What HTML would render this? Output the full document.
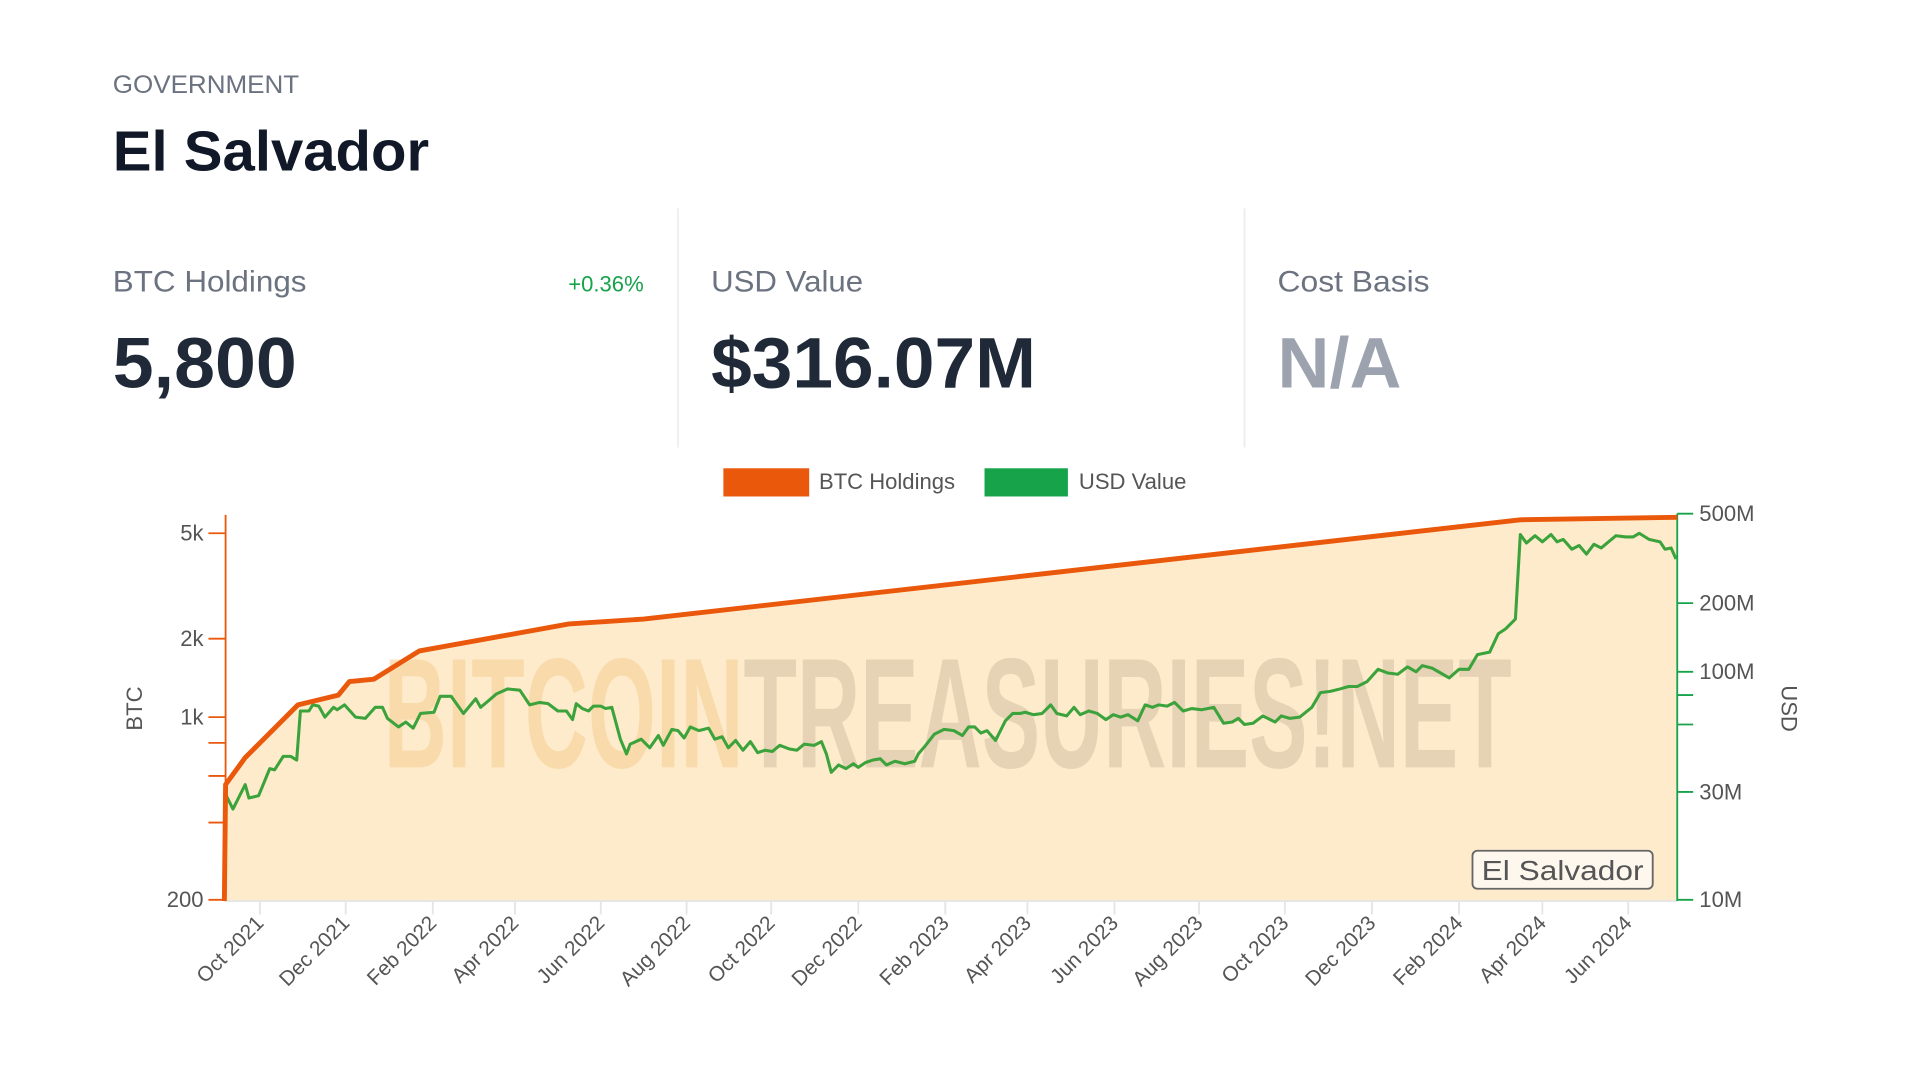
<!DOCTYPE html>
<html><head><meta charset="utf-8"><style>
html,body{margin:0;padding:0;background:#fff;width:1920px;height:1080px;overflow:hidden}
svg{display:block}
text{font-family:"Liberation Sans",sans-serif}
</style></head><body>
<svg width="1920" height="1080" viewBox="0 0 1566 881" preserveAspectRatio="none" xmlns="http://www.w3.org/2000/svg">
<rect width="1566" height="881" fill="#fff"/>
<text x="92" y="76" font-size="20" fill="#6b7280" textLength="152" lengthAdjust="spacingAndGlyphs">GOVERNMENT</text>
<text x="92" y="139" font-size="46" font-weight="bold" fill="#111827" textLength="258" lengthAdjust="spacingAndGlyphs">El Salvador</text>
<line x1="553" y1="170" x2="553" y2="365" stroke="#eeeeee" stroke-width="1.5"/>
<line x1="1015" y1="170" x2="1015" y2="365" stroke="#eeeeee" stroke-width="1.5"/>
<text x="92" y="238" font-size="24" fill="#6b7280" textLength="158" lengthAdjust="spacingAndGlyphs">BTC Holdings</text>
<text x="525" y="238" font-size="18" fill="#16a34a" text-anchor="end">+0.36%</text>
<text x="92" y="316" font-size="58" font-weight="bold" fill="#1f2937" textLength="150" lengthAdjust="spacingAndGlyphs">5,800</text>
<text x="580" y="238" font-size="24" fill="#6b7280" textLength="124" lengthAdjust="spacingAndGlyphs">USD Value</text>
<text x="580" y="316" font-size="58" font-weight="bold" fill="#1f2937" textLength="265" lengthAdjust="spacingAndGlyphs">$316.07M</text>
<text x="1042" y="238" font-size="24" fill="#6b7280" textLength="124" lengthAdjust="spacingAndGlyphs">Cost Basis</text>
<text x="1042" y="316" font-size="58" font-weight="bold" fill="#9ca3af" textLength="101" lengthAdjust="spacingAndGlyphs">N/A</text>

<rect x="590" y="382" width="70" height="23" fill="#ea580c"/>
<text x="668" y="399" font-size="18" fill="#555">BTC Holdings</text>
<rect x="803" y="382" width="68" height="23" fill="#16a34a"/>
<text x="880" y="399" font-size="18" fill="#555">USD Value</text>

<polygon fill="#fdebcc" points="183,735 184,640 200,618 243,575 276,567 285,556 305,554 342,531 464,509 525,505 1240,424 1368,422 1368,735"/>
<text x="313" y="626" font-size="128" font-weight="bold" textLength="920" lengthAdjust="spacingAndGlyphs"><tspan fill="#f7cf94" fill-opacity="0.6">BITCOIN</tspan><tspan fill="#c9b49a" fill-opacity="0.45">TREASURIES!NET</tspan></text>

<line x1="183" y1="735" x2="1368" y2="735" stroke="#e5e5e5" stroke-width="1.5"/>
<g stroke="#e5e5e5" stroke-width="1.5">
<line x1="212" y1="735" x2="212" y2="746"/><line x1="282" y1="735" x2="282" y2="746"/><line x1="353" y1="735" x2="353" y2="746"/><line x1="420" y1="735" x2="420" y2="746"/><line x1="490" y1="735" x2="490" y2="746"/><line x1="560" y1="735" x2="560" y2="746"/><line x1="629" y1="735" x2="629" y2="746"/><line x1="700" y1="735" x2="700" y2="746"/><line x1="771" y1="735" x2="771" y2="746"/><line x1="838" y1="735" x2="838" y2="746"/><line x1="909" y1="735" x2="909" y2="746"/><line x1="978" y1="735" x2="978" y2="746"/><line x1="1048" y1="735" x2="1048" y2="746"/><line x1="1119" y1="735" x2="1119" y2="746"/><line x1="1190" y1="735" x2="1190" y2="746"/><line x1="1258" y1="735" x2="1258" y2="746"/><line x1="1328" y1="735" x2="1328" y2="746"/>
</g>
<g font-size="17" fill="#555" text-anchor="end">
<text transform="translate(216,754) rotate(-45)">Oct 2021</text>
<text transform="translate(286,754) rotate(-45)">Dec 2021</text>
<text transform="translate(357,754) rotate(-45)">Feb 2022</text>
<text transform="translate(424,754) rotate(-45)">Apr 2022</text>
<text transform="translate(494,754) rotate(-45)">Jun 2022</text>
<text transform="translate(564,754) rotate(-45)">Aug 2022</text>
<text transform="translate(633,754) rotate(-45)">Oct 2022</text>
<text transform="translate(704,754) rotate(-45)">Dec 2022</text>
<text transform="translate(775,754) rotate(-45)">Feb 2023</text>
<text transform="translate(842,754) rotate(-45)">Apr 2023</text>
<text transform="translate(913,754) rotate(-45)">Jun 2023</text>
<text transform="translate(982,754) rotate(-45)">Aug 2023</text>
<text transform="translate(1052,754) rotate(-45)">Oct 2023</text>
<text transform="translate(1123,754) rotate(-45)">Dec 2023</text>
<text transform="translate(1194,754) rotate(-45)">Feb 2024</text>
<text transform="translate(1262,754) rotate(-45)">Apr 2024</text>
<text transform="translate(1332,754) rotate(-45)">Jun 2024</text>
</g>

<line x1="184" y1="420" x2="184" y2="735" stroke="#ea580c" stroke-width="1.5"/>
<g stroke="#ea580c" stroke-width="1.5">
<line x1="170" y1="435" x2="184" y2="435"/><line x1="170" y1="521" x2="184" y2="521"/><line x1="170" y1="585" x2="184" y2="585"/><line x1="170" y1="606" x2="184" y2="606"/><line x1="170" y1="633" x2="184" y2="633"/><line x1="170" y1="671" x2="184" y2="671"/><line x1="170" y1="734" x2="184" y2="734"/>
</g>
<g font-size="18" fill="#555" text-anchor="end">
<text x="166" y="441">5k</text><text x="166" y="527">2k</text><text x="166" y="591">1k</text><text x="166" y="740">200</text>
</g>
<text transform="translate(116,578) rotate(-90)" font-size="18" fill="#555" text-anchor="middle">BTC</text>

<line x1="1368" y1="419" x2="1368" y2="735" stroke="#16a34a" stroke-width="1.5"/>
<g stroke="#16a34a" stroke-width="1.5">
<line x1="1368" y1="419" x2="1381" y2="419"/><line x1="1368" y1="492" x2="1381" y2="492"/><line x1="1368" y1="548" x2="1381" y2="548"/><line x1="1368" y1="567" x2="1381" y2="567"/><line x1="1368" y1="591" x2="1381" y2="591"/><line x1="1368" y1="646" x2="1381" y2="646"/><line x1="1368" y1="734" x2="1381" y2="734"/>
</g>
<g font-size="18" fill="#555">
<text x="1386" y="425">500M</text><text x="1386" y="498">200M</text><text x="1386" y="554">100M</text><text x="1386" y="652">30M</text><text x="1386" y="740">10M</text>
</g>
<text transform="translate(1453,578) rotate(90)" font-size="18" fill="#555" text-anchor="middle">USD</text>

<polyline fill="none" stroke="#3ca33c" stroke-width="2.5" stroke-linejoin="round" points="184,648 190,660 200,640 203,651 211,649 220,627 224,628 231,617 237,617 242,620 245,580 252,580 255,575 260,576 265,585 272,577 275,579 281,575 290,585 298,586 306,577 312,577 316,586 325,593 331,589 337,594 343,582 354,581 359,568 368,568 378,582 388,570 392,577 398,572 405,566 414,562 424,563 432,575 440,573 447,574 455,580 462,580 467,587 470,574 475,578 480,580 484,576 490,576 494,578 499,577 506,603 511,615 514,607 523,603 530,610 537,600 541,608 548,595 553,596 558,602 563,593 570,596 578,594 583,603 589,601 594,610 600,604 606,612 612,605 618,614 624,612 630,613 636,608 644,611 650,612 656,607 664,608 670,605 674,615 678,630 684,624 690,627 696,623 700,626 706,622 712,620 718,619 723,624 730,621 738,623 746,621 749,615 755,608 762,599 770,595 778,596 785,600 790,593 795,593 800,598 805,596 812,604 820,588 826,582 832,582 836,581 843,583 850,582 857,575 862,582 870,584 876,577 881,583 888,580 895,582 902,587 908,583 914,585 920,583 928,588 934,575 940,577 945,575 952,576 958,573 965,580 972,578 980,579 990,577 998,590 1005,589 1010,586 1015,591 1022,590 1030,584 1040,589 1045,584 1052,586 1060,585 1070,577 1077,565 1085,564 1093,562 1100,560 1107,560 1115,556 1124,546 1132,549 1140,550 1148,544 1155,548 1160,543 1168,545 1175,549 1182,553 1190,546 1198,546 1205,534 1215,532 1222,517 1228,513 1236,505 1240,436 1245,443 1252,437 1258,442 1265,436 1270,442 1275,440 1282,448 1288,445 1294,452 1300,444 1306,447 1312,442 1318,437 1326,438 1332,438 1337,435 1345,440 1354,442 1358,448 1363,447 1367,456"/>
<polyline fill="none" stroke="#ea580c" stroke-width="4" stroke-linejoin="round" points="183,735 184,640 200,618 243,575 276,567 285,556 305,554 342,531 464,509 525,505 1240,424 1368,422"/>

<rect x="1201" y="694" width="147" height="31" rx="4" fill="#fdf7ee" stroke="#666" stroke-width="1.5"/>
<text x="1274.5" y="718" font-size="23" fill="#555" text-anchor="middle" textLength="132" lengthAdjust="spacingAndGlyphs">El Salvador</text>
</svg>
</body></html>
